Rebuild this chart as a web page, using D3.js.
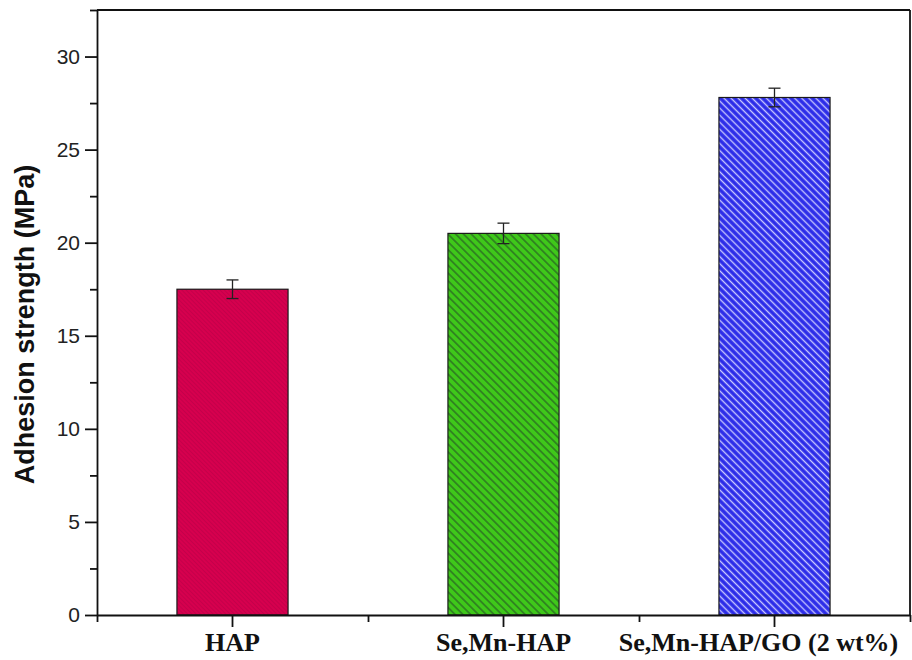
<!DOCTYPE html>
<html>
<head>
<meta charset="utf-8">
<script src="https://cdn.jsdelivr.net/npm/d3@7"></script>
<style>
  html, body { margin: 0; padding: 0; background: #fff; }
  svg { display: block; }
</style>
</head>
<body>
<svg id="chart" width="912" height="660"></svg>
<script>
// Adhesion strength of coatings
const categories = ["HAP", "Se,Mn-HAP", "Se,Mn-HAP/GO (2 wt%)"];
const values = [17.5, 20.5, 27.8];
const errors = [0.5, 0.55, 0.5];
const yTicks = [0, 5, 10, 15, 20, 25, 30];

const W = 912, H = 660;
const m = { left: 97, right: 2, top: 10, bottom: 45 };
const svg = d3.select("#chart");

const x = d3.scaleBand().domain(categories).range([m.left, W - m.right]).padding(0);
const y = d3.scaleLinear().domain([0, 32.5]).range([H - m.bottom, m.top]);

// Hatch patterns for the bars
const defs = svg.append("defs");
function hatch(id, bg, line, size, lw) {
  const p = defs.append("pattern").attr("id", id)
    .attr("patternUnits", "userSpaceOnUse")
    .attr("width", size).attr("height", size)
    .attr("patternTransform", "rotate(-45)");
  p.append("rect").attr("width", size).attr("height", size).attr("fill", bg);
  p.append("line").attr("x1", size / 2).attr("y1", 0).attr("x2", size / 2).attr("y2", size)
    .attr("stroke", line).attr("stroke-width", lw);
  return `url(#${id})`;
}
const fills = [
  hatch("pRed", "#d6004e", "#c4004a", 3, 1),
  hatch("pGreen", "#3fc81a", "#2f7a22", 5.5, 1.6),
  hatch("pBlue", "#2b2be8", "#c8c8ff", 5, 1.4)
];

const barW = x.bandwidth() * 0.41;

// Bars
svg.append("g").selectAll("rect").data(values).join("rect")
  .attr("x", (d, i) => x(categories[i]) + x.bandwidth() / 2 - barW / 2)
  .attr("y", d => y(d))
  .attr("width", barW)
  .attr("height", d => y(0) - y(d))
  .attr("fill", (d, i) => fills[i])
  .attr("stroke", "#1a1a1a")
  .attr("stroke-width", 1.2);

// Error bars
const eg = svg.append("g").attr("stroke", "#222").attr("stroke-width", 1.3);
values.forEach((v, i) => {
  const cx = x(categories[i]) + x.bandwidth() / 2;
  const e = errors[i];
  eg.append("line").attr("x1", cx).attr("x2", cx).attr("y1", y(v + e)).attr("y2", y(v - e));
  eg.append("line").attr("x1", cx - 6).attr("x2", cx + 6).attr("y1", y(v + e)).attr("y2", y(v + e));
  eg.append("line").attr("x1", cx - 6).attr("x2", cx + 6).attr("y1", y(v - e)).attr("y2", y(v - e));
});

// Frame
const frame = svg.append("g").attr("stroke", "#111").attr("stroke-width", 1.8).attr("fill", "none");
frame.append("line").attr("x1", m.left).attr("x2", W - m.right).attr("y1", m.top).attr("y2", m.top);
frame.append("line").attr("x1", W - m.right).attr("x2", W - m.right).attr("y1", m.top).attr("y2", H - m.bottom);

// Y axis with minor ticks
const yAxis = svg.append("g").attr("transform", `translate(${m.left},0)`)
  .call(d3.axisLeft(y).tickValues(yTicks).tickSize(12).tickSizeOuter(0).tickPadding(5));
const yMinor = svg.append("g").attr("transform", `translate(${m.left},0)`)
  .call(d3.axisLeft(y).tickValues([2.5, 7.5, 12.5, 17.5, 22.5, 27.5, 32.5]).tickSize(7).tickSizeOuter(0).tickFormat(""));
yMinor.select(".domain").remove();

// X axis with minor ticks between categories
const xPos = d3.scaleLinear().domain([0, 3]).range([m.left, W - m.right]);
const xAxis = svg.append("g").attr("transform", `translate(0,${y(0)})`)
  .call(d3.axisBottom(x).tickSize(12).tickSizeOuter(0).tickPadding(6));
const xMinor = svg.append("g").attr("transform", `translate(0,${y(0)})`)
  .call(d3.axisBottom(xPos).tickValues([0, 1, 2, 3]).tickSize(7).tickSizeOuter(0).tickFormat(""));
xMinor.select(".domain").remove();

svg.selectAll(".domain, .tick line").attr("stroke", "#111").attr("stroke-width", 1.8);

yAxis.selectAll("text")
  .attr("font-family", "Liberation Sans, Arial, sans-serif")
  .attr("font-size", 21).attr("fill", "#222");
xAxis.selectAll("text")
  .attr("font-family", "Liberation Serif, Times New Roman, serif")
  .attr("font-weight", "bold").attr("font-size", 26).attr("fill", "#111")
  .attr("dx", (d, i) => i === categories.length - 1 ? -16 : 0);

// Y axis title
svg.append("text")
  .attr("transform", `translate(34,${(m.top + H - m.bottom) / 2 + 12}) rotate(-90)`)
  .attr("text-anchor", "middle")
  .attr("font-family", "Liberation Sans, Arial, sans-serif")
  .attr("font-weight", "bold").attr("font-size", 27).attr("fill", "#111")
  .text("Adhesion strength (MPa)");
</script>
</body>
</html>
